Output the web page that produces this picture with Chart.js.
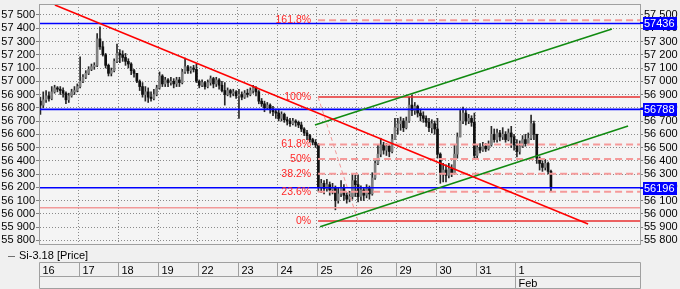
<!DOCTYPE html>
<html>
<head>
<meta charset="utf-8">
<script src="https://cdn.jsdelivr.net/npm/chart.js@4.4.1/dist/chart.umd.min.js"></script>
<style>
  html, body { margin: 0; padding: 0; background: #f0f0f0; }
  #wrap { width: 680px; height: 289px; }
</style>
</head>
<body>
<div id="wrap"><canvas id="priceChart" width="680" height="289"></canvas></div>
<script>
// trading days shown in the date bar, hourly bars per day
var dayLabels = ['16', '17', '18', '19', '22', '23', '24', '25', '26', '29', '30', '31', '1'];
var barsPerDay = [14, 14, 14, 14, 14, 14, 14, 14, 14, 14, 14, 14, 13];

var opens = [
    56850, 56820, 56860, 56890, 56870, 56920, 56950, 56940, 56930, 56910, 56860, 56890, 56920, 56930,
    56960, 57000, 57030, 57060, 57090, 57110, 57120, 57320, 57260, 57200, 57120, 57060, 57080, 57150,
    57210, 57200, 57180, 57150, 57130, 57080, 57060, 57000, 56960, 56900, 56920, 56880, 56870, 56900,
    56950, 57040, 56980, 57010, 56990, 57000, 56980, 57010, 56990, 57070, 57110, 57080, 57100, 57090,
    57000, 56970, 56990, 56960, 56990, 57020, 56980, 57010, 56970, 56930, 56900, 56930, 56910, 56920,
    56890, 56900, 56880, 56910, 56900, 56930, 56950, 56920, 56850, 56830, 56800, 56820, 56790, 56770,
    56760, 56720, 56750, 56710, 56700, 56680, 56700, 56690, 56670, 56640, 56610, 56590, 56560, 56540,
    56520, 56200, 56230, 56190, 56220, 56180, 56200, 56100, 56150, 56200, 56140, 56110, 56130, 56250,
    56220, 56130, 56180, 56140, 56190, 56150, 56270, 56380, 56450, 56520, 56480, 56510, 56470, 56560,
    56650, 56680, 56700, 56650, 56700, 56820, 56780, 56810, 56760, 56740, 56720, 56690, 56650, 56680,
    56640, 56450, 56300, 56330, 56290, 56340, 56310, 56450, 56580, 56700, 56760, 56700, 56720, 56690,
    56440, 56500, 56480, 56510, 56490, 56520, 56600, 56560, 56610, 56580, 56600, 56560, 56610, 56580,
    56520, 56470, 56510, 56560, 56530, 56570, 56680, 56600, 56420, 56380, 56350, 56380, 56320
];
var highs = [
    56880, 56920, 56930, 56920, 56960, 56970, 56960, 56960, 56950, 56920, 56910, 56940, 56960, 56980,
    57185, 57050, 57080, 57110, 57130, 57140, 57360, 57410, 57300, 57210, 57130, 57100, 57170, 57280,
    57240, 57230, 57210, 57170, 57140, 57090, 57060, 57010, 56990, 56960, 56950, 56920, 56940, 56970,
    57070, 57050, 57030, 57020, 57030, 57020, 57030, 57030, 57090, 57175, 57120, 57110, 57120, 57130,
    57010, 57010, 57000, 57010, 57040, 57030, 57030, 57020, 57000, 56990, 56950, 56940, 56940, 56930,
    56940, 56920, 56930, 56940, 56950, 56970, 56960, 56930, 56870, 56850, 56840, 56830, 56810, 56790,
    56790, 56770, 56760, 56730, 56720, 56720, 56710, 56700, 56690, 56650, 56630, 56600, 56570, 56560,
    56530, 56260, 56250, 56260, 56240, 56230, 56210, 56200, 56250, 56220, 56160, 56170, 56300, 56290,
    56290, 56210, 56200, 56220, 56210, 56310, 56400, 56520, 56570, 56540, 56530, 56520, 56600, 56720,
    56720, 56730, 56720, 56730, 56880, 56895, 56840, 56820, 56790, 56770, 56740, 56720, 56710, 56700,
    56720, 56460, 56380, 56370, 56380, 56370, 56520, 56610, 56780, 56805, 56790, 56750, 56740, 56760,
    56520, 56530, 56540, 56530, 56550, 56660, 56640, 56640, 56630, 56650, 56620, 56640, 56660, 56600,
    56560, 56550, 56590, 56600, 56610, 56745, 56700, 56600, 56430, 56400, 56410, 56390, 56330
];
var lows = [
    56750, 56800, 56840, 56850, 56860, 56910, 56920, 56900, 56880, 56830, 56840, 56880, 56900, 56920,
    56950, 56990, 57020, 57050, 57080, 57090, 57110, 57240, 57190, 57100, 57040, 57040, 57070, 57140,
    57140, 57150, 57120, 57100, 57050, 57030, 56990, 56930, 56880, 56850, 56840, 56850, 56860, 56890,
    56940, 56960, 56960, 56960, 56970, 56950, 56960, 56960, 56980, 57060, 57060, 57060, 57070, 56990,
    56950, 56960, 56940, 56950, 56970, 56950, 56960, 56940, 56920, 56820, 56890, 56880, 56890, 56870,
    56720, 56860, 56870, 56880, 56890, 56910, 56890, 56830, 56810, 56770, 56790, 56760, 56740, 56720,
    56700, 56700, 56690, 56670, 56660, 56670, 56660, 56650, 56620, 56590, 56560, 56540, 56520, 56500,
    56170, 56160, 56150, 56170, 56140, 56150, 56030, 56080, 56130, 56100, 56080, 56090, 56110, 56130,
    56090, 56100, 56100, 56120, 56110, 56140, 56260, 56370, 56430, 56450, 56440, 56430, 56460, 56560,
    56600, 56630, 56620, 56640, 56690, 56740, 56750, 56730, 56700, 56690, 56660, 56620, 56610, 56600,
    56420, 56230, 56240, 56240, 56270, 56280, 56300, 56420, 56580, 56680, 56670, 56680, 56660, 56420,
    56410, 56460, 56470, 56470, 56480, 56510, 56540, 56540, 56550, 56560, 56540, 56550, 56500, 56480,
    56430, 56450, 56500, 56510, 56520, 56560, 56560, 56380, 56330, 56320, 56330, 56300, 56170
];
var closes = [
    56820, 56860, 56890, 56870, 56920, 56950, 56940, 56930, 56910, 56860, 56890, 56920, 56930, 56960,
    57000, 57030, 57060, 57090, 57110, 57120, 57320, 57260, 57200, 57120, 57060, 57080, 57150, 57210,
    57200, 57180, 57150, 57130, 57080, 57060, 57000, 56960, 56900, 56920, 56880, 56870, 56900, 56950,
    57040, 56980, 57010, 56990, 57000, 56980, 57010, 56990, 57070, 57110, 57080, 57100, 57090, 57000,
    56970, 56990, 56960, 56990, 57020, 56980, 57010, 56970, 56930, 56900, 56930, 56910, 56920, 56890,
    56900, 56880, 56910, 56900, 56930, 56950, 56920, 56850, 56830, 56800, 56820, 56790, 56770, 56760,
    56720, 56750, 56710, 56700, 56680, 56700, 56690, 56670, 56640, 56610, 56590, 56560, 56540, 56520,
    56200, 56230, 56190, 56220, 56180, 56200, 56100, 56150, 56200, 56140, 56110, 56130, 56250, 56220,
    56130, 56180, 56140, 56190, 56150, 56270, 56380, 56450, 56520, 56480, 56510, 56470, 56560, 56650,
    56680, 56700, 56650, 56700, 56820, 56780, 56810, 56760, 56740, 56720, 56690, 56650, 56680, 56640,
    56450, 56300, 56330, 56290, 56340, 56310, 56450, 56580, 56700, 56760, 56700, 56720, 56690, 56440,
    56500, 56480, 56510, 56490, 56520, 56600, 56560, 56610, 56580, 56600, 56560, 56610, 56580, 56520,
    56470, 56510, 56560, 56530, 56570, 56680, 56600, 56420, 56380, 56350, 56380, 56320, 56196
];

// horizontal price levels (blue) with their axis tags
var levelLines = [57436, 56788, 56196];
var supportLine = 56046;

// fibonacci retracement
var fibNames = ['0%', '23.6%', '38.2%', '50%', '61.8%', '100%', '161.8%'];
var fibValues = [55945, 56166, 56303, 56413, 56523, 56881, 57460];
var fibStartBar = 97.9;
var fibEndBar = 112.0;

// trend lines, x in bar numbers
var trendRed = [{x: 5.1, y: 57575}, {x: 193.1, y: 55923}];
var channelUpper = [{x: 96.8, y: 56670}, {x: 201.5, y: 57394}];
var channelLower = [{x: 98.6, y: 55902}, {x: 207.2, y: 56662}];

var yMin = 55772, yMax = 57583;
var xMax = 211.4;

var dayStarts = [];
var n = 0;
for (var d = 0; d < barsPerDay.length; d++) { dayStarts.push(n); n += barsPerDay[d]; }

var wickData = [], bodyData = [], bodyColors = [];
for (var i = 0; i < closes.length; i++) {
    wickData.push({x: i, y: [lows[i], highs[i]]});
    bodyData.push({x: i, y: [opens[i], closes[i]]});
    bodyColors.push(closes[i] >= opens[i] ? '#808080' : '#101010');
}

function hLine(v, from) {
    return [{x: from, y: v}, {x: xMax, y: v}];
}
function fmtPrice(v) {
    var s = String(v % 1000);
    while (s.length < 3) s = '0' + s;
    return Math.floor(v / 1000) + ' ' + s;
}

var datasets = [
    {type: 'bar', label: 'wicks', data: wickData, backgroundColor: '#282828', barThickness: 1, grouped: false, order: 6},
    {type: 'bar', label: 'Si-3.18 [Price]', data: bodyData, backgroundColor: bodyColors, barThickness: 2, minBarLength: 1, grouped: false, order: 5},
    {type: 'line', data: hLine(supportLine, -0.5), borderColor: '#f29a9a', borderWidth: 1.5, pointRadius: 0, order: 4},
    {type: 'line', data: [{x: fibStartBar, y: fibValues[5]}, {x: fibEndBar, y: fibValues[0]}], borderColor: '#f29a9a', borderWidth: 1, borderDash: [4, 3], pointRadius: 0, order: 3}
];
fibValues.forEach(function(v, k) {
    var solid = (fibNames[k] === '0%' || fibNames[k] === '100%');
    datasets.push({
        type: 'line', data: hLine(v, fibStartBar),
        borderColor: solid ? '#e83030' : '#f59a9a',
        borderWidth: solid ? 1.5 : 2,
        borderDash: solid ? [] : [7, 4],
        pointRadius: 0, order: 3
    });
});
levelLines.forEach(function(v) {
    datasets.push({type: 'line', data: hLine(v, -0.5), borderColor: '#0000ff', borderWidth: 1.6, pointRadius: 0, order: 2});
});
datasets.push({type: 'line', data: trendRed, borderColor: '#ff0000', borderWidth: 1.6, pointRadius: 0, order: 1});
datasets.push({type: 'line', data: channelUpper, borderColor: '#108a10', borderWidth: 1.6, pointRadius: 0, order: 1});
datasets.push({type: 'line', data: channelLower, borderColor: '#108a10', borderWidth: 1.6, pointRadius: 0, order: 1});

var chartDecor = {
    id: 'chartDecor',
    beforeDraw: function(chart) {
        var ctx = chart.ctx, a = chart.chartArea;
        ctx.save();
        ctx.fillStyle = '#f0f0f0';
        ctx.fillRect(0, 0, chart.width, chart.height);
        ctx.fillStyle = '#f4f4f4';
        ctx.fillRect(a.left, a.top, a.right - a.left, a.bottom - a.top);
        ctx.restore();
    },
    afterDraw: function(chart) {
        var ctx = chart.ctx, a = chart.chartArea;
        var xs = chart.scales.x, ys = chart.scales.y;
        ctx.save();
        ctx.strokeStyle = '#a0a0a0';
        ctx.lineWidth = 1;
        ctx.strokeRect(a.left + 0.5, a.top + 0.5, a.right - a.left, a.bottom - a.top);

        // fib labels
        ctx.font = '10.5px Arial';
        ctx.textBaseline = 'middle';
        ctx.textAlign = 'right';
        ctx.fillStyle = '#ff2828';
        var fx = xs.getPixelForValue(fibStartBar) - 7;
        fibValues.forEach(function(v, k) {
            ctx.fillText(fibNames[k], fx, ys.getPixelForValue(v));
        });

        // blue price tags on right axis
        ctx.font = '11px Arial';
        ctx.textAlign = 'left';
        levelLines.forEach(function(v) {
            var py = Math.round(ys.getPixelForValue(v));
            ctx.fillStyle = '#0000ff';
            ctx.fillRect(a.right, py - 1, 4, 2);
            ctx.fillRect(a.right + 3, py - 6, 34, 13);
            ctx.fillStyle = '#ffffff';
            ctx.fillText(String(v), a.right + 4, py + 1);
        });

        // legend
        ctx.fillStyle = '#000';
        ctx.strokeStyle = '#707070';
        ctx.beginPath();
        ctx.moveTo(8, 256.5);
        ctx.lineTo(15, 256.5);
        ctx.stroke();
        ctx.fillText('Si-3.18 [Price]', 19, 256);

        // date bar
        var top = 262.5, mid = 276.5, bot = 288.5;
        var x0 = a.left + 0.5, x1 = a.right + 0.5;
        ctx.strokeStyle = '#a0a0a0';
        ctx.beginPath();
        ctx.moveTo(x0, top); ctx.lineTo(x1, top);
        ctx.moveTo(x0, mid); ctx.lineTo(x1, mid);
        ctx.moveTo(x0, bot); ctx.lineTo(x1, bot);
        ctx.moveTo(x1, top); ctx.lineTo(x1, bot);
        ctx.stroke();
        ctx.fillStyle = '#000';
        for (var d = 0; d < dayLabels.length; d++) {
            var px = Math.round(xs.getPixelForValue(dayStarts[d] - 0.5)) + 0.5;
            var last = d === dayLabels.length - 1;
            ctx.beginPath();
            ctx.moveTo(px, top);
            ctx.lineTo(px, (last || d === 0) ? bot : mid);
            ctx.stroke();
            ctx.fillText(dayLabels[d], px + 3, (top + mid) / 2 + 1);
            if (last) ctx.fillText('Feb', px + 3, (mid + bot) / 2 + 1);
        }
        ctx.restore();
    }
};

var axisFont = { family: 'Arial', size: 11 };

var ctx = document.getElementById('priceChart').getContext('2d');

var chart = new Chart(ctx, {
    type: 'bar',
    data: { datasets: datasets },
    options: {
        responsive: false,
        animation: false,
        layout: { padding: { top: 4, left: 0, right: 0, bottom: 0 } },
        plugins: {
            legend: { display: false },
            tooltip: { enabled: false }
        },
        scales: {
            x: {
                type: 'linear',
                min: -0.5,
                max: xMax,
                offset: false,
                grid: { offset: false, color: '#8a8a8a', drawTicks: false },
                border: { display: false, dash: [1, 2] },
                ticks: { display: false, autoSkip: false },
                afterBuildTicks: function(scale) {
                    scale.ticks = dayStarts.map(function(s) { return { value: s - 0.5 }; });
                },
                afterFit: function(scale) {
                    scale.height = 45;
                    scale.paddingLeft = 0;
                    scale.paddingRight = 0;
                }
            },
            y: {
                position: 'left',
                min: yMin,
                max: yMax,
                grid: { color: '#8a8a8a', tickLength: 3, tickColor: '#808080' },
                border: { color: '#909090', dash: [1, 2] },
                ticks: {
                    stepSize: 100,
                    includeBounds: false,
                    autoSkip: false,
                    padding: 1,
                    color: '#000',
                    font: axisFont,
                    callback: function(v) { return fmtPrice(v); }
                },
                afterFit: function(scale) {
                    scale.width = 39;
                    scale.paddingTop = 0;
                    scale.paddingBottom = 0;
                }
            },
            y2: {
                position: 'right',
                min: yMin,
                max: yMax,
                grid: { drawOnChartArea: false, tickLength: 3, tickColor: '#808080' },
                border: { color: '#909090' },
                ticks: {
                    stepSize: 100,
                    includeBounds: false,
                    autoSkip: false,
                    padding: 1,
                    color: '#000',
                    font: axisFont,
                    callback: function(v) { return fmtPrice(v); }
                },
                afterFit: function(scale) {
                    scale.width = 40;
                    scale.paddingTop = 0;
                    scale.paddingBottom = 0;
                }
            }
        }
    },
    plugins: [chartDecor]
});
</script>
</body>
</html>
